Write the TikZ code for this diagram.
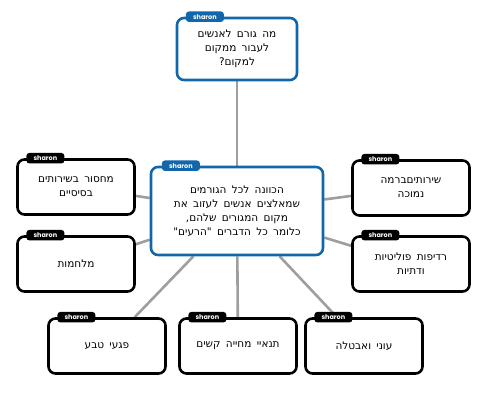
\documentclass[tikz,border=0pt]{standalone}
\usepackage{fontspec}
\usepackage{tikz}
\usetikzlibrary{backgrounds}
\newfontfamily\hebfont[Script=Hebrew, WordSpace=1.6]{DejaVu Sans}
\newfontfamily\tagfont{Poppins}
\TeXXeTstate=1
\newcommand{\rtl}[1]{\beginR #1\endR}
\definecolor{shblue}{RGB}{18, 102, 170}
\definecolor{shgray}{RGB}{158, 158, 158}

\tikzset{
  topic/.style={draw=black, line width=2.6pt, rounded corners=7pt, fill=white,
    minimum width=117pt, minimum height=55pt, align=center, inner sep=2pt,
    font=\hebfont\fontsize{10.5}{14}\selectfont},
  maintopic/.style={topic, draw=shblue},
  tagbox/.style={fill=#1, rounded corners=3pt, text=white, inner sep=0pt,
    minimum width=38pt, minimum height=10.5pt, anchor=west,
    font=\tagfont\bfseries\fontsize{6.5}{6.5}\selectfont},
  link/.style={draw=shgray, line width=2.6pt},
}

\begin{document}
\begin{tikzpicture}[x=1pt, y=-1pt]
\useasboundingbox (0,0) rectangle (500,414);

% main question and centre
\node[maintopic, minimum width=120pt, minimum height=62pt] (quest) at (237,49)
  {\rtl{מה גורם לאנשים}\\\rtl{לעבור ממקום}\\\rtl{למקום?}};
\node[maintopic, minimum width=172pt, minimum height=88pt] (push) at (237,211)
  {\rtl{הכוונה לכל הגורמים}\\\rtl{שמאלצים אנשים לעזוב את}\\\rtl{מקום המגורים שלהם,}\\\rtl{כלומר כל הדברים "הרעים"}};

% the push factors
\node[topic] (services) at (76,187) {\rtl{מחסור בשירותים}\\\rtl{בסיסיים}};
\node[topic] (health) at (411,188) {\rtl{שירותיםברמה}\\\rtl{נמוכה}};
\node[topic] (wars) at (76,264) {\rtl{מלחמות}};
\node[topic] (persec) at (411,264) {\rtl{רדיפות פוליטיות}\\\rtl{ודתיות}};
\node[topic] (nature) at (107,346) {\rtl{פגעי טבע}};
\node[topic] (living) at (238,346) {\rtl{תנאיי מחייה קשים}};
\node[topic] (poverty) at (364,346) {\rtl{עוני ואבטלה}};

% tags
\node[tagbox=shblue] (tq) at ([xshift=10pt]quest.north west) {sharon};
\node[tagbox=shblue] (tp) at ([xshift=12pt]push.north west) {sharon};
\foreach \n in {services, health, wars, persec, nature, living, poverty}
  \node[tagbox=black] (t-\n) at ([xshift=10pt]\n.north west) {sharon};

% links
\begin{scope}[on background layer]
\draw[link] (push) -- (quest);
\foreach \n in {services, health, wars, persec, nature, living, poverty}
  \draw[link] (push) -- (\n);
\end{scope}
\end{tikzpicture}
\end{document}
